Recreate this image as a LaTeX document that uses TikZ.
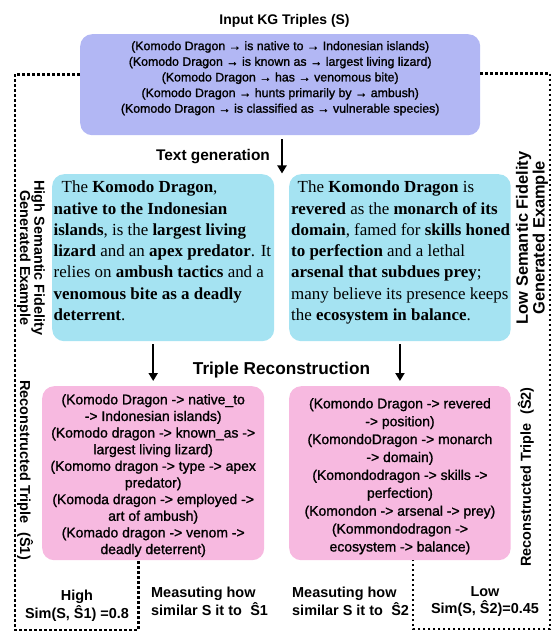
\documentclass[tikz,border=0pt]{standalone}
\usepackage{fontspec}
\setmainfont{Liberation Serif}
\setsansfont{Liberation Sans}
\newfontfamily\medsans[FakeBold=1.2]{Liberation Sans}
\usetikzlibrary{arrows.meta}

\definecolor{kgblue}{RGB}{178,183,244}
\definecolor{gencyan}{RGB}{165,227,242}
\definecolor{recpink}{RGB}{247,185,224}

\tikzset{
panel/.style={rounded corners=12bp, inner sep=0pt, anchor=north west},
flow/.style={->, >={Triangle[width=9bp,length=8bp]}, line width=2.3bp, shorten <=3bp, shorten >=5bp},
fidelityloop/.style={line width=2.7bp, dash pattern=on 2.7bp off 2.3bp},
stagelabel/.style={font={\sffamily\bfseries\fontsize{15.5}{18}\selectfont}, inner sep=0pt},
sidelabel/.style={font={\sffamily\bfseries\fontsize{14.5}{14.5}\selectfont}, align=center, inner sep=0pt},
scorelabel/.style={font={\sffamily\bfseries\fontsize{14.5}{18}\selectfont}, inner sep=0pt}
}
\newcommand{\gentextfont}{\rmfamily\fontsize{17}{21.3}\selectfont\raggedright}
\newcommand{\rectextfont}{\medsans\fontsize{14}{16.7}\selectfont\centering}

\begin{document}
\begin{tikzpicture}[x=1bp, y=-1bp]
\useasboundingbox (0,0) rectangle (552,632);

% input triples
\node[stagelabel, font={\sffamily\bfseries\fontsize{14}{16}\selectfont}] (inputtitle) at (284.5,21) {Input KG Triples (S)};
\node[panel, fill=kgblue, minimum width=400bp, minimum height=101bp] (kgtriples) at (80,34)
{\parbox[c][101bp][t]{400bp}{\medsans\fontsize{12.4}{15.7}\selectfont\centering\vspace*{7bp}
(Komodo Dragon → is native to → Indonesian islands)\\
(Komodo Dragon → is known as → largest living lizard)\\
(Komodo Dragon → has → venomous bite)\\
(Komodo Dragon → hunts primarily by → ambush)\\
(Komodo Dragon → is classified as → vulnerable species)}};

% text generation
\node[stagelabel] (genlabel) at (213,157) {Text generation};
\coordinate (genend) at (282,174);
\draw[flow, shorten <=4bp, shorten >=0.5bp] (kgtriples.south -| genend) -- (genend);

\node[panel, fill=gencyan, minimum width=222bp, minimum height=167bp] (hightext) at (52,174)
{\parbox[c][167bp][t]{222bp}{\gentextfont\leftskip=1.5bp\vspace*{7bp}
\hspace*{8bp}The \textbf{Komodo Dragon},\\
\textbf{native to the Indonesian}\\
\textbf{islands}, is the \textbf{largest living}\\
\textbf{lizard} and an \textbf{apex predator}. It\\
relies on \textbf{ambush tactics} and a\\
\textbf{venomous bite as a deadly}\\
\textbf{deterrent}.}};
\node[panel, fill=gencyan, minimum width=221.5bp, minimum height=167bp] (lowtext) at (289,174)
{\parbox[c][167bp][t]{221.5bp}{\gentextfont\leftskip=2bp\vspace*{7bp}
\hspace*{6.5bp}The \textbf{Komondo Dragon} is\\
\textbf{revered} as the \textbf{monarch of its}\\
\textbf{domain}, famed for \textbf{skills honed}\\
\textbf{to perfection} and a lethal\\
\textbf{arsenal that subdues prey};\\
many believe its presence keeps\\
the \textbf{ecosystem in balance}.}};

% triple reconstruction
\node[stagelabel, font={\sffamily\bfseries\fontsize{17.3}{20}\selectfont}] (reclabel) at (281.5,370.5) {Triple Reconstruction};

\node[panel, fill=recpink, minimum width=222bp, minimum height=174bp] (hightrip) at (42,386)
{\parbox[c][174bp][t]{222bp}{\rectextfont\vspace*{8bp}
(Komodo Dragon -> native\_to\\
-> Indonesian islands)\\
(Komodo dragon -> known\_as ->\\
largest living lizard)\\
(Komomo dragon -> type -> apex\\
predator)\\
(Komoda dragon -> employed ->\\
art of ambush)\\
(Komado dragon -> venom ->\\
deadly deterrent)}};
\node[panel, fill=recpink, minimum width=221.5bp, minimum height=174bp] (lowtrip) at (289,386)
{\parbox[c][174bp][t]{221.5bp}{\rectextfont\baselineskip=17.9bp\vspace*{12bp}
(Komondo Dragon -> revered\\
-> position)\\
(KomondoDragon -> monarch\\
-> domain)\\
(Komondodragon -> skills ->\\
perfection)\\
(Komondon -> arsenal -> prey)\\
(Kommondodragon ->\\
ecosystem -> balance)}};

\draw[flow] (hightext.south -| hightrip.north) -- (hightrip.north);
\draw[flow] (lowtext.south -| lowtrip.north) -- (lowtrip.north);

% side labels
\node[sidelabel, rotate=-90] (highlabel) at (31,258) {High Semantic Fidelity\\Generated Example};
\node[sidelabel, rotate=90, font={\sffamily\bfseries\fontsize{16.5}{17}\selectfont}] (lowlabel) at (532,238) {Low Semantic Fidelity\\Generated Example};
\node[sidelabel, rotate=-90] (highrec) at (25,470) {Reconstructed Triple\hspace{0.6em}(Ŝ1)};
\node[sidelabel, rotate=90] (lowrec) at (526,477) {Reconstructed Triple\hspace{0.6em}(Ŝ2)};

% fidelity loops
\coordinate (highcorner) at (15,630);
\coordinate (lowcorner) at (550,629);
\draw[fidelityloop] ([yshift=10.5bp]kgtriples.west) -| (highcorner) -| ([xshift=-15bp]hightrip.south);
\draw[fidelityloop] ([yshift=11.5bp]kgtriples.east) -| (lowcorner) -| ([xshift=13bp]lowtrip.south);

% scores
\node[scorelabel, align=center] (highscore) at (77,606) {High\\Sim(S, Ŝ1) =0.8};
\node[scorelabel, align=left, anchor=west] (highmeasure) at (151,601.5) {Measuting how\\similar S it to\hspace{0.3em} Ŝ1};
\node[scorelabel, align=left, anchor=west] (lowmeasure) at (292,601.5) {Measuting how\\similar S it to\hspace{0.3em} Ŝ2};
\node[scorelabel, align=center] (lowscore) at (485,601.5) {Low\\Sim(S, Ŝ2)=0.45};
\end{tikzpicture}
\end{document}
